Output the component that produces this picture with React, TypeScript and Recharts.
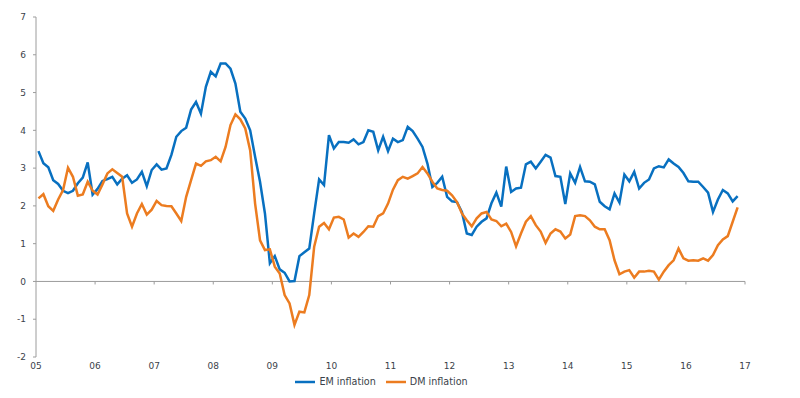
import { LineChart, Line, XAxis, YAxis, ReferenceLine, Legend } from "recharts";

// Monthly series, Jan 2005 .. Nov 2016 (y/y inflation, %)
const START_YEAR = 2005;

const emInflation = [
  3.45, 3.13, 3.02, 2.68, 2.58, 2.4, 2.34, 2.4, 2.6, 2.75,
  3.15, 2.3, 2.45, 2.66, 2.71, 2.77, 2.57, 2.72, 2.81, 2.61,
  2.7, 2.9, 2.52, 2.95, 3.1, 2.96, 2.99, 3.35, 3.83, 3.98,
  4.07, 4.55, 4.75, 4.44, 5.15, 5.55, 5.43, 5.77, 5.77, 5.63,
  5.24, 4.49, 4.31, 4.0, 3.3, 2.64, 1.8, 0.48, 0.67, 0.32,
  0.23, 0.0, 0.01, 0.67, 0.77, 0.87, 1.8, 2.7, 2.55, 3.87,
  3.52, 3.69, 3.69, 3.67, 3.76, 3.63, 3.69, 4.0, 3.96, 3.47,
  3.83, 3.45, 3.78, 3.69, 3.74, 4.09, 3.98, 3.78, 3.56, 3.12,
  2.5, 2.61, 2.77, 2.24, 2.12, 2.1, 1.84, 1.27, 1.23, 1.45,
  1.58, 1.67, 2.07, 2.35, 1.98, 3.04, 2.37, 2.46, 2.48, 3.1,
  3.17, 2.99, 3.17, 3.35, 3.28, 2.79, 2.77, 2.05, 2.86, 2.61,
  3.03, 2.65, 2.64, 2.57, 2.11, 1.99, 1.91, 2.33, 2.09, 2.83,
  2.65, 2.9, 2.46, 2.61, 2.7, 2.99, 3.05, 3.02, 3.23, 3.12,
  3.03, 2.87, 2.65, 2.64, 2.64, 2.5, 2.35, 1.84, 2.17, 2.42,
  2.33, 2.12, 2.26,
];

const dmInflation = [
  2.2, 2.31, 1.99, 1.87, 2.17, 2.42, 3.01, 2.77, 2.27, 2.3,
  2.64, 2.4, 2.3, 2.57, 2.86, 2.97, 2.87, 2.77, 1.8, 1.45,
  1.8, 2.05, 1.77, 1.9, 2.13, 2.02, 2.0, 1.99, 1.8, 1.6,
  2.24, 2.68, 3.12, 3.06, 3.18, 3.21, 3.3, 3.18, 3.56, 4.14,
  4.42, 4.29, 4.05, 3.47, 2.06, 1.09, 0.83, 0.85, 0.39, 0.21,
  -0.36, -0.58, -1.15, -0.8, -0.82, -0.36, 0.92, 1.45, 1.55, 1.38,
  1.69, 1.71, 1.64, 1.16, 1.27, 1.18, 1.31, 1.46, 1.45, 1.73,
  1.8, 2.06, 2.43, 2.68, 2.77, 2.72, 2.79, 2.86, 3.03, 2.86,
  2.64, 2.46, 2.42, 2.4, 2.28, 2.1, 1.8, 1.62, 1.46, 1.67,
  1.8, 1.84, 1.64, 1.6, 1.46, 1.53, 1.31, 0.93, 1.27, 1.58,
  1.73, 1.49, 1.32, 1.02, 1.27, 1.38, 1.32, 1.14, 1.24, 1.73,
  1.75, 1.73, 1.62, 1.45, 1.38, 1.38, 1.09, 0.56, 0.19, 0.26,
  0.3, 0.1, 0.26, 0.26, 0.28, 0.26, 0.05, 0.26, 0.43, 0.56,
  0.87, 0.61, 0.55, 0.56, 0.55, 0.61, 0.55, 0.7, 0.96, 1.11,
  1.2, 1.58, 1.96,
];

const yearTicks = [2005, 2006, 2007, 2008, 2009, 2010, 2011, 2012, 2013, 2014, 2015, 2016, 2017];
const valueTicks = [-2, -1, 0, 1, 2, 3, 4, 5, 6, 7];
const legendOrder = ["EM inflation", "DM inflation"];

// points sit mid-month
const data = emInflation.map((em, i) => ({
  t: START_YEAR + (i + 0.5) / 12,
  em,
  dm: dmInflation[i],
}));

const BLUE = "#0870c0";
const ORANGE = "#ec7c20";
const AXIS = "#9c9c9c";
const TEXT = "#3b3f4a";
const FONT = "'DejaVu Sans', sans-serif";

export default function App() {
  return (
    <div style={{ position: "absolute", left: 0, top: 0, width: 800, height: 398, background: "#fff", fontFamily: FONT }}>
      <LineChart width={800} height={398} data={data} margin={{ top: 17, right: 55, bottom: 21, left: 0 }}>
        <XAxis
          dataKey="t"
          type="number"
          domain={[2005, 2017]}
          ticks={yearTicks}
          interval={0}
          tickFormatter={(v) => String(v).slice(2)}
          axisLine={false}
          tickLine={false}
          tickSize={0}
          tickMargin={6}
          height={20}
          tick={{ fontSize: 9, fill: TEXT }}
        />
        <YAxis
          domain={[-2, 7]}
          ticks={valueTicks}
          interval={0}
          width={36}
          axisLine={{ stroke: AXIS }}
          tickLine={{ stroke: AXIS }}
          tickSize={3}
          tickMargin={7}
          tick={{ fontSize: 9, fill: TEXT }}
        />
        <ReferenceLine y={0} stroke={AXIS} />
        {yearTicks.slice(1).map((yr) => (
          <ReferenceLine key={yr} segment={[{ x: yr, y: 0 }, { x: yr, y: -0.08 }]} stroke={AXIS} />
        ))}
        <Line type="linear" dataKey="em" name="EM inflation" stroke={BLUE} strokeWidth={2.5} dot={false} isAnimationActive={false} />
        <Line type="linear" dataKey="dm" name="DM inflation" stroke={ORANGE} strokeWidth={2.5} dot={false} isAnimationActive={false} />
        <Legend
          layout="horizontal"
          verticalAlign="middle"
          align="center"
          iconType="plainline"
          iconSize={20}
          itemSorter={(item: any) => legendOrder.indexOf(item.value)}
          wrapperStyle={{ top: 372, left: 0, width: 773, fontSize: 9.6 }}
          formatter={(v) => <span style={{ color: TEXT }}>{v}</span>}
        />
      </LineChart>
    </div>
  );
}
